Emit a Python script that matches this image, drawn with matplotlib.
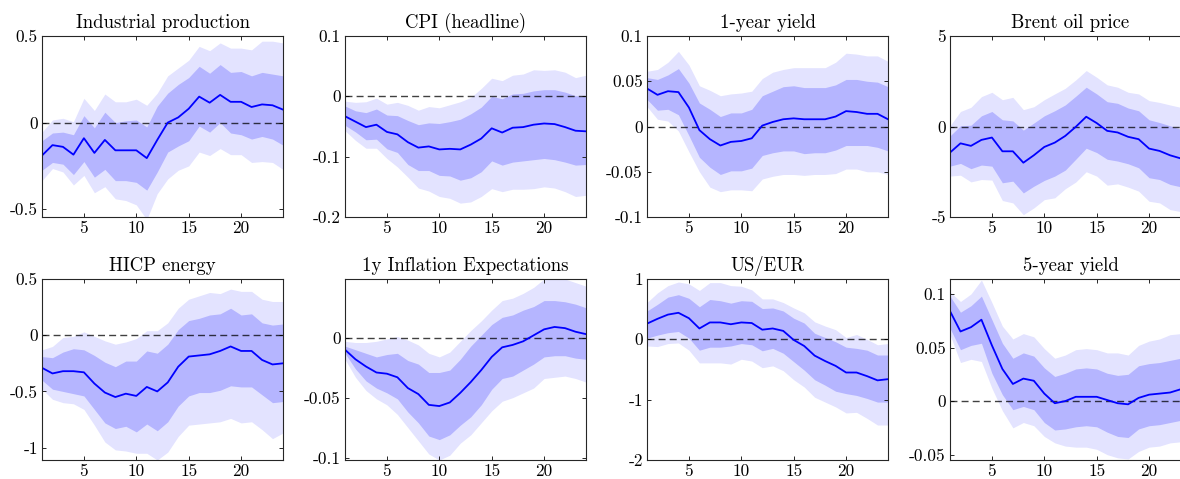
import numpy as np
import matplotlib
matplotlib.use("Agg")
import matplotlib.pyplot as plt

plt.rcParams['font.family'] = ['cmr10', 'DejaVu Serif']
plt.rcParams['axes.unicode_minus'] = False

horizon = np.arange(1, 25)

titles = ["Industrial production", "CPI (headline)", "1-year yield", "Brent oil price",
          "HICP energy", "1y Inflation Expectations", "US/EUR", "5-year yield"]

# median response, 68% band (inner), 90% band (outer)
ip_med = [-0.19, -0.13, -0.14, -0.185, -0.09, -0.175, -0.10, -0.16, -0.16, -0.16, -0.205, -0.10,
          0.0, 0.03, 0.08, 0.15, 0.115, 0.16, 0.12, 0.12, 0.09, 0.105, 0.10, 0.075]
ip_in_hi = [-0.105, -0.06, -0.055, -0.07, 0.04, -0.03, 0.06, 0.0, 0.01, 0.015, -0.025, 0.095,
            0.17, 0.22, 0.26, 0.325, 0.285, 0.335, 0.29, 0.295, 0.27, 0.29, 0.28, 0.27]
ip_in_lo = [-0.275, -0.23, -0.24, -0.30, -0.225, -0.315, -0.27, -0.335, -0.335, -0.345, -0.39, -0.285,
            -0.17, -0.135, -0.105, -0.02, -0.055, 0.0, -0.06, -0.07, -0.095, -0.08, -0.095, -0.13]
ip_out_hi = [-0.055, 0.015, 0.025, 0.005, 0.14, 0.07, 0.165, 0.12, 0.12, 0.135, 0.10, 0.17,
             0.27, 0.315, 0.36, 0.44, 0.415, 0.46, 0.43, 0.43, 0.42, 0.47, 0.47, 0.46]
ip_out_lo = [-0.335, -0.265, -0.285, -0.36, -0.305, -0.405, -0.37, -0.44, -0.45, -0.475, -0.56, -0.41,
             -0.325, -0.275, -0.25, -0.17, -0.19, -0.15, -0.185, -0.185, -0.23, -0.225, -0.23, -0.27]

cpi_med = [-0.033, -0.042, -0.051, -0.047, -0.059, -0.063, -0.076, -0.085, -0.083, -0.088, -0.087, -0.088,
           -0.080, -0.070, -0.053, -0.060, -0.052, -0.051, -0.047, -0.045, -0.046, -0.051, -0.057, -0.058]
cpi_in_hi = [-0.016, -0.024, -0.027, -0.021, -0.031, -0.032, -0.040, -0.047, -0.044, -0.045, -0.042, -0.038,
             -0.029, -0.018, 0.0, -0.004, 0.004, 0.005, 0.009, 0.011, 0.011, 0.007, 0.001, 0.0]
cpi_in_lo = [-0.048, -0.059, -0.072, -0.071, -0.087, -0.093, -0.113, -0.123, -0.123, -0.131, -0.132, -0.139,
             -0.135, -0.125, -0.107, -0.114, -0.109, -0.107, -0.105, -0.103, -0.105, -0.109, -0.114, -0.113]
cpi_out_hi = [-0.008, -0.010, -0.009, -0.003, -0.013, -0.010, -0.015, -0.023, -0.017, -0.019, -0.014, -0.009,
              -0.002, 0.013, 0.030, 0.026, 0.035, 0.037, 0.044, 0.043, 0.044, 0.040, 0.031, 0.035]
cpi_out_lo = [-0.057, -0.073, -0.086, -0.086, -0.103, -0.117, -0.134, -0.152, -0.157, -0.166, -0.169, -0.177,
              -0.175, -0.166, -0.153, -0.158, -0.154, -0.154, -0.153, -0.150, -0.152, -0.158, -0.166, -0.164]

y1_med = [0.042, 0.035, 0.039, 0.038, 0.021, -0.004, -0.014, -0.021, -0.017, -0.016, -0.013, 0.001,
          0.005, 0.008, 0.009, 0.008, 0.008, 0.008, 0.011, 0.017, 0.016, 0.014, 0.014, 0.008]
y1_in_hi = [0.054, 0.052, 0.057, 0.064, 0.048, 0.026, 0.019, 0.011, 0.015, 0.015, 0.019, 0.034,
            0.039, 0.044, 0.045, 0.043, 0.043, 0.043, 0.046, 0.052, 0.052, 0.050, 0.049, 0.044]
y1_in_lo = [0.030, 0.018, 0.019, 0.013, -0.010, -0.034, -0.045, -0.053, -0.049, -0.049, -0.046, -0.032,
            -0.029, -0.027, -0.027, -0.030, -0.029, -0.029, -0.026, -0.021, -0.021, -0.021, -0.023, -0.027]
y1_out_hi = [0.061, 0.063, 0.071, 0.083, 0.068, 0.045, 0.040, 0.034, 0.036, 0.037, 0.039, 0.053,
             0.060, 0.063, 0.065, 0.065, 0.065, 0.065, 0.071, 0.081, 0.080, 0.078, 0.078, 0.072]
y1_out_lo = [0.022, 0.008, 0.006, -0.005, -0.028, -0.050, -0.067, -0.072, -0.070, -0.070, -0.071, -0.058,
             -0.055, -0.053, -0.053, -0.054, -0.053, -0.053, -0.052, -0.047, -0.047, -0.050, -0.050, -0.053]

# Brent and 5-year yield: last horizon is cut off at the figure edge
oil_med = [-1.44, -0.93, -1.07, -0.74, -0.61, -1.37, -1.37, -2.0, -1.59, -1.13, -0.89, -0.52,
           -0.02, 0.54, 0.19, -0.24, -0.33, -0.57, -0.70, -1.22, -1.35, -1.59, -1.76]
oil_in_hi = [-0.52, 0.04, 0.07, 0.59, 0.83, 0.37, 0.31, -0.2, 0.19, 0.59, 0.87, 1.19,
             1.67, 2.17, 1.80, 1.37, 1.28, 1.02, 0.87, 0.37, 0.22, 0.04, -0.15]
oil_in_lo = [-2.19, -2.04, -2.33, -2.13, -2.19, -3.11, -3.02, -3.67, -3.30, -2.98, -2.74, -2.41,
             -1.81, -1.20, -1.44, -1.81, -1.91, -2.06, -2.28, -2.83, -2.93, -3.20, -3.33]
oil_out_hi = [0.04, 0.83, 1.06, 1.65, 1.89, 1.48, 1.61, 0.93, 1.09, 1.48, 1.80, 2.11,
              2.57, 3.09, 2.72, 2.30, 2.17, 1.89, 1.80, 1.43, 1.33, 1.19, 1.06]
oil_out_lo = [-2.74, -2.69, -3.06, -2.93, -2.96, -4.09, -4.22, -4.87, -4.50, -4.04, -3.94, -3.44,
              -3.07, -2.50, -2.74, -3.24, -3.17, -3.35, -3.57, -4.13, -4.22, -4.59, -4.70]

en_med = [-0.29, -0.34, -0.32, -0.32, -0.33, -0.43, -0.51, -0.55, -0.52, -0.54, -0.46, -0.50,
          -0.42, -0.28, -0.19, -0.18, -0.17, -0.14, -0.10, -0.14, -0.14, -0.22, -0.26, -0.25]
en_in_hi = [-0.19, -0.20, -0.15, -0.12, -0.13, -0.18, -0.24, -0.28, -0.23, -0.23, -0.14, -0.16,
            -0.08, 0.05, 0.13, 0.15, 0.18, 0.19, 0.24, 0.18, 0.19, 0.11, 0.09, 0.10]
en_in_lo = [-0.40, -0.48, -0.50, -0.52, -0.54, -0.66, -0.78, -0.83, -0.81, -0.86, -0.79, -0.85,
            -0.77, -0.63, -0.54, -0.51, -0.51, -0.49, -0.45, -0.46, -0.46, -0.53, -0.60, -0.59]
en_out_hi = [-0.13, -0.10, -0.02, -0.01, 0.03, -0.01, -0.05, -0.08, -0.06, -0.03, 0.04, 0.04,
             0.11, 0.24, 0.32, 0.35, 0.38, 0.37, 0.41, 0.39, 0.39, 0.32, 0.30, 0.30]
en_out_lo = [-0.48, -0.57, -0.60, -0.61, -0.66, -0.80, -0.95, -1.02, -1.03, -1.05, -1.05, -1.11,
             -1.04, -0.90, -0.80, -0.79, -0.78, -0.77, -0.74, -0.78, -0.77, -0.84, -0.92, -0.87]

ie_med = [-0.010, -0.018, -0.024, -0.029, -0.030, -0.033, -0.042, -0.047, -0.056, -0.057, -0.054, -0.046,
          -0.037, -0.027, -0.016, -0.008, -0.006, -0.003, 0.002, 0.007, 0.009, 0.008, 0.005, 0.003]
ie_in_hi = [-0.007, -0.010, -0.013, -0.016, -0.014, -0.013, -0.019, -0.022, -0.029, -0.029, -0.027, -0.018,
            -0.007, 0.002, 0.011, 0.017, 0.019, 0.023, 0.026, 0.031, 0.031, 0.030, 0.028, 0.025]
ie_in_lo = [-0.013, -0.026, -0.036, -0.042, -0.046, -0.051, -0.062, -0.071, -0.082, -0.085, -0.081, -0.073,
            -0.066, -0.056, -0.043, -0.034, -0.032, -0.027, -0.022, -0.016, -0.015, -0.015, -0.017, -0.018]
ie_out_hi = [-0.003, -0.004, -0.004, -0.003, -0.001, 0.001, -0.002, -0.006, -0.013, -0.016, -0.012, -0.003,
             0.006, 0.014, 0.023, 0.031, 0.033, 0.037, 0.042, 0.049, 0.050, 0.049, 0.046, 0.043]
ie_out_lo = [-0.018, -0.033, -0.044, -0.051, -0.056, -0.064, -0.075, -0.086, -0.097, -0.102, -0.098, -0.088,
             -0.081, -0.071, -0.061, -0.053, -0.050, -0.046, -0.042, -0.034, -0.033, -0.032, -0.034, -0.037]

fx_med = [0.26, 0.34, 0.41, 0.44, 0.35, 0.18, 0.28, 0.28, 0.25, 0.28, 0.27, 0.16,
          0.18, 0.14, -0.01, -0.11, -0.27, -0.36, -0.44, -0.55, -0.55, -0.61, -0.68, -0.66]
fx_in_hi = [0.47, 0.58, 0.70, 0.74, 0.68, 0.54, 0.66, 0.64, 0.60, 0.64, 0.63, 0.51,
            0.52, 0.47, 0.35, 0.27, 0.10, 0.03, -0.04, -0.13, -0.15, -0.18, -0.26, -0.26]
fx_in_lo = [0.02, 0.07, 0.11, 0.13, 0.02, -0.18, -0.13, -0.13, -0.11, -0.07, -0.09, -0.19,
            -0.15, -0.23, -0.37, -0.51, -0.67, -0.76, -0.86, -0.90, -0.93, -0.98, -1.04, -1.04]
fx_out_hi = [0.61, 0.77, 0.89, 0.95, 0.92, 0.81, 0.94, 0.94, 0.89, 0.88, 0.82, 0.67,
             0.67, 0.61, 0.52, 0.44, 0.29, 0.22, 0.16, 0.03, 0.08, 0.0, -0.09, -0.07]
fx_out_lo = [-0.11, -0.12, -0.07, -0.06, -0.18, -0.39, -0.39, -0.39, -0.41, -0.33, -0.36, -0.47,
             -0.44, -0.52, -0.67, -0.79, -0.96, -1.04, -1.12, -1.22, -1.21, -1.31, -1.42, -1.42]

y5_med = [0.084, 0.065, 0.069, 0.076, 0.052, 0.030, 0.016, 0.021, 0.019, 0.007, -0.002, 0.0,
          0.004, 0.004, 0.004, 0.001, -0.002, -0.003, 0.003, 0.006, 0.007, 0.008, 0.011]
y5_in_hi = [0.098, 0.083, 0.089, 0.098, 0.076, 0.054, 0.040, 0.045, 0.042, 0.031, 0.023, 0.026,
            0.030, 0.031, 0.030, 0.026, 0.024, 0.025, 0.033, 0.035, 0.036, 0.038, 0.040]
y5_in_lo = [0.068, 0.048, 0.052, 0.054, 0.026, 0.006, -0.008, -0.005, -0.008, -0.020, -0.027, -0.026,
            -0.024, -0.023, -0.024, -0.029, -0.033, -0.034, -0.026, -0.023, -0.022, -0.020, -0.018]
y5_out_hi = [0.102, 0.093, 0.100, 0.113, 0.092, 0.070, 0.058, 0.063, 0.060, 0.049, 0.040, 0.043,
             0.048, 0.049, 0.048, 0.045, 0.045, 0.043, 0.052, 0.056, 0.058, 0.062, 0.063]
y5_out_lo = [0.062, 0.036, 0.039, 0.037, 0.012, -0.009, -0.025, -0.020, -0.023, -0.033, -0.039, -0.042,
             -0.043, -0.043, -0.045, -0.050, -0.053, -0.054, -0.047, -0.043, -0.042, -0.039, -0.038]

series = [
    (ip_med, ip_in_lo, ip_in_hi, ip_out_lo, ip_out_hi),
    (cpi_med, cpi_in_lo, cpi_in_hi, cpi_out_lo, cpi_out_hi),
    (y1_med, y1_in_lo, y1_in_hi, y1_out_lo, y1_out_hi),
    (oil_med, oil_in_lo, oil_in_hi, oil_out_lo, oil_out_hi),
    (en_med, en_in_lo, en_in_hi, en_out_lo, en_out_hi),
    (ie_med, ie_in_lo, ie_in_hi, ie_out_lo, ie_out_hi),
    (fx_med, fx_in_lo, fx_in_hi, fx_out_lo, fx_out_hi),
    (y5_med, y5_in_lo, y5_in_hi, y5_out_lo, y5_out_hi),
]

ylims = [(-0.545, 0.5), (-0.2, 0.1), (-0.1, 0.1), (-5, 5),
         (-1.11, 0.5), (-0.102, 0.049), (-2, 1), (-0.055, 0.114)]
yticks = [[-0.5, 0, 0.5], [-0.2, -0.1, 0, 0.1], [-0.1, -0.05, 0, 0.05, 0.1], [-5, 0, 5],
          [-1, -0.5, 0, 0.5], [-0.1, -0.05, 0], [-2, -1, 0, 1], [-0.05, 0, 0.05, 0.1]]
ytick_labels = [["-0.5", "0", "0.5"], ["-0.2", "-0.1", "0", "0.1"],
                ["-0.1", "-0.05", "0", "0.05", "0.1"], ["-5", "0", "5"],
                ["-1", "-0.5", "0", "0.5"], ["-0.1", "-0.05", "0"],
                ["-2", "-1", "0", "1"], ["-0.05", "0", "0.05", "0.1"]]
xticks = [5, 10, 15, 20]

light = (0.89, 0.89, 1.0)
dark = (0.71, 0.71, 1.0)

fig = plt.figure(figsize=(11.8, 4.79), dpi=100)
lefts = [42, 345, 647, 950]
bottoms = [262, 19]
W, H = 1180.0, 479.0

for i in range(8):
    r, c = divmod(i, 4)
    ax = fig.add_axes([lefts[c] / W, bottoms[r] / H, 241 / W, 181 / H])
    med, in_lo, in_hi, out_lo, out_hi = series[i]
    h = horizon[:len(med)]
    ax.fill_between(h, out_lo, out_hi, color=light, lw=0)
    ax.fill_between(h, in_lo, in_hi, color=dark, lw=0)
    ax.axhline(0, color='black', ls='--', lw=1.0, dashes=(5, 3), alpha=0.75)
    ax.plot(h, med, color='blue', lw=1.3)
    ax.set_xlim(1, 24)
    ax.set_ylim(*ylims[i])
    ax.set_xticks(xticks)
    ax.set_xticklabels([str(t) for t in xticks])
    ax.set_yticks(yticks[i])
    ax.set_yticklabels(ytick_labels[i])
    ax.tick_params(direction='in', length=3, width=0.7, top=True, right=True,
                   labelsize=12.5, color='0.15', pad=3)
    for s in ax.spines.values():
        s.set_linewidth(0.8)
        s.set_color('0.15')
    ax.set_title(titles[i], fontsize=13.5, pad=6)

fig.savefig("out.png", dpi=100)
